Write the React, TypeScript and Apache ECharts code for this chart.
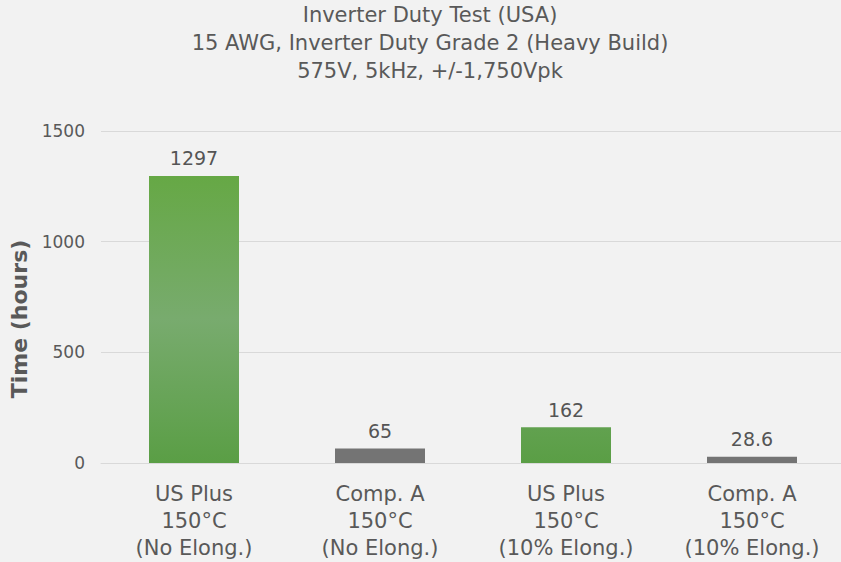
import React, { useEffect, useRef } from "react";
import * as echarts from "echarts";

const categories = [
  "US Plus\n150°C\n(No Elong.)",
  "Comp. A\n150°C\n(No Elong.)",
  "US Plus\n150°C\n(10% Elong.)",
  "Comp. A\n150°C\n(10% Elong.)",
];
const values = [1297, 65, 162, 28.6];
const kinds = ["green", "gray", "green", "gray"];
const titleLines = [
  "Inverter Duty Test (USA)",
  "15 AWG, Inverter Duty Grade 2 (Heavy Build)",
  "575V, 5kHz, +/-1,750Vpk",
];

const FONT = "'DejaVu Sans', sans-serif";

export default function App() {
  const ref = useRef<HTMLDivElement>(null);
  useEffect(() => {
    if (!ref.current) return;
    const chart = echarts.init(ref.current, null, { renderer: "svg" });
    const green = new echarts.graphic.LinearGradient(
      0,
      176,
      0,
      463,
      [
        { offset: 0, color: "#66a845" },
        { offset: 0.5, color: "#78ab6e" },
        { offset: 1, color: "#5a9e45" },
      ],
      true
    );
    chart.setOption({
      animation: false,
      backgroundColor: "#f2f2f2",
      graphic: titleLines.map((t, i) => ({
        type: "text",
        x: 430,
        y: 15 + i * 28,
        style: {
          text: t,
          fontFamily: FONT,
          fontSize: 21,
          fill: "#595959",
          align: "center",
          verticalAlign: "middle",
        },
      })),
      grid: { left: 101, width: 744, top: 131, bottom: 99 },
      xAxis: {
        type: "category",
        data: categories,
        axisLine: { show: true, lineStyle: { color: "#d9d9d9" } },
        axisTick: { show: false },
        axisLabel: {
          fontFamily: FONT,
          fontSize: 21,
          color: "#595959",
          lineHeight: 27,
          margin: 17,
          interval: 0,
        },
      },
      yAxis: {
        type: "value",
        min: 0,
        max: 1500,
        interval: 500,
        name: "Time (hours)",
        nameLocation: "middle",
        nameGap: 65,
        nameTextStyle: {
          fontFamily: FONT,
          fontSize: 22,
          fontWeight: "bold",
          color: "#595959",
          padding: [0, 44, 0, 0],
        },
        axisLine: { show: false },
        axisTick: { show: false },
        axisLabel: {
          fontFamily: FONT,
          fontSize: 17,
          color: "#595959",
          margin: 16,
          formatter: (v: number) => String(v),
        },
        splitLine: { lineStyle: { color: "#d9d9d9" } },
      },
      series: [
        {
          type: "bar",
          barWidth: 90,
          data: values.map((v, i) => ({
            value: v,
            itemStyle: { color: kinds[i] === "green" ? green : "#747474" },
          })),
          label: {
            show: true,
            position: "top",
            distance: 8,
            fontFamily: FONT,
            fontSize: 19,
            color: "#555555",
          },
        },
      ],
    });
    return () => chart.dispose();
  }, []);
  return (
    <div
      style={{
        position: "fixed",
        left: 0,
        top: 0,
        width: 841,
        height: 562,
        overflow: "hidden",
      }}
    >
      <div ref={ref} style={{ width: 846, height: 562 }} />
    </div>
  );
}
